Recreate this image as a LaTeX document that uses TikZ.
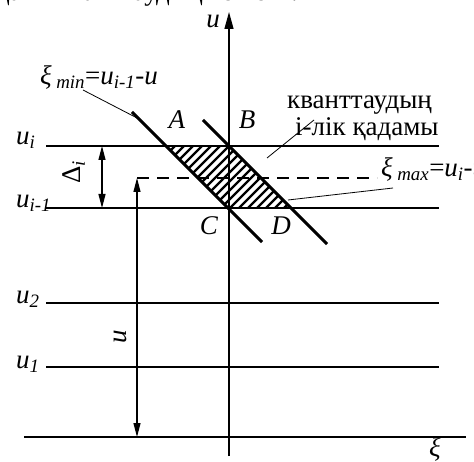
\documentclass[tikz,border=0pt]{standalone}
\usepackage{fontspec}
\setmainfont{Liberation Serif}
\usetikzlibrary{arrows.meta}
\begin{document}
\begin{tikzpicture}[x=1pt,y=-1pt,
  thinline/.style={line width=1.3pt},
  thickline/.style={line width=3pt},
  hatchline/.style={line width=2.4pt},
  leader/.style={line width=0.8pt},
  dimarrow/.style={line width=1.2pt,{Triangle[length=14pt,width=7pt]}-{Triangle[length=14pt,width=7pt]}},
  lbl/.style={font=\fontsize{27}{31}\selectfont, inner sep=0pt},
  ]
\useasboundingbox (0,0) rectangle (474,462);
\clip (0,0) rectangle (474,462);

% cropped caption line at the very top
\node[lbl, anchor=base west] (toptext) at (-4,1) {дағы кванттаудың кешемі.};

% axes
\coordinate (ubot) at (229,456);
\coordinate (utop) at (229,12);
\draw[thinline,-{Triangle[length=17pt,width=9pt]}] (ubot) -- (utop);
\coordinate (xil) at (24,437);
\coordinate (xir) at (466,437);
\draw[thinline] (xil) -- (xir);

% level lines
\coordinate (uiL) at (46,146);   \coordinate (uiR) at (439,146);
\coordinate (uimL) at (46,208);  \coordinate (uimR) at (439,208);
\coordinate (u2L) at (46,303);   \coordinate (u2R) at (439,303);
\coordinate (u1L) at (46,367);   \coordinate (u1R) at (439,367);
\draw[thinline] (uiL) -- (uiR);
\draw[thinline] (uimL) -- (uimR);
\draw[thinline] (u2L) -- (u2R);
\draw[thinline] (u1L) -- (u1R);

% dashed level u
\coordinate (dashL) at (137,178);
\coordinate (dashR) at (377,178);
\draw[thinline,dash pattern=on 12pt off 8pt] (dashL) -- (dashR);

% hatched parallelogram
\coordinate (A) at (166,146);
\coordinate (B) at (229,146);
\coordinate (D) at (291,208);
\coordinate (C) at (229,208);
\begin{scope}
\clip (A) -- (B) -- (D) -- (C) -- cycle;
\foreach \c in {312,321,...,504}{
  \draw[hatchline] (\c-250,250) -- (\c-100,100);
}
\end{scope}

% thick diagonals
\coordinate (m1) at (132,112);
\coordinate (m2) at (262,242);
\coordinate (n1) at (203,120);
\coordinate (n2) at (327,244);
\draw[thickline] (m1) -- (m2);
\draw[thickline] (n1) -- (n2);

% dimension arrows
\coordinate (dtop) at (102,146);
\coordinate (dbot) at (102,208);
\draw[dimarrow] (dtop) -- (dbot);
\coordinate (ua) at (137,178);
\coordinate (ub) at (137,437);
\draw[dimarrow] (ua) -- (ub);

% leaders
\coordinate (l1a) at (83,90);   \coordinate (l1b) at (139,119);
\coordinate (l2a) at (314,120); \coordinate (l2b) at (267,158);
\coordinate (l3a) at (393,188); \coordinate (l3b) at (288,200);
\draw[leader] (l1a) -- (l1b);
\draw[leader] (l2a) -- (l2b);
\draw[leader] (l3a) -- (l3b);

% labels
\node[lbl] (ulab) at (213,21) {\textit{u}};
\node[lbl] (xilab) at (435,449) {\textit{ξ}};
\node[lbl] (Alab) at (177,120) {\textit{A}};
\node[lbl] (Blab) at (247,120) {\textit{B}};
\node[lbl] (Clab) at (209,226) {\textit{C}};
\node[lbl] (Dlab) at (281,226) {\textit{D}};
\node[lbl, anchor=base west] (uilab) at (16,145) {\textit{u}\textsubscript{\textit{i}}};
\node[lbl, anchor=base west] (uimlab) at (16,208) {\textit{u}\textsubscript{\textit{i-1}}};
\node[lbl, anchor=base west] (u2lab) at (16,304) {\textit{u}\textsubscript{\textit{2}}};
\node[lbl, anchor=base west] (u1lab) at (16,369) {\textit{u}\textsubscript{\textit{1}}};
\node[lbl, rotate=90] (dlab) at (74,172) {Δ\textsubscript{\textit{i}}};
\node[lbl, rotate=90] (urot) at (120,337) {\textit{u}};
\node[lbl, anchor=base west] (ximin) at (40,85) {\textit{ξ}\,\textsubscript{\textit{min}}=\textit{u}\textsubscript{\textit{i-1}}-\textit{u}};
\node[lbl, anchor=base west] (ximax) at (381,177) {\textit{ξ}\,\textsubscript{\textit{max}}=\textit{u}\textsubscript{\textit{i}}-\textit{u}};
\node[lbl, anchor=base west] (kv1) at (287,109) {кванттаудың};
\node[lbl, anchor=base west] (kv2) at (295,136) {і-лік қадамы};
\end{tikzpicture}
\end{document}
